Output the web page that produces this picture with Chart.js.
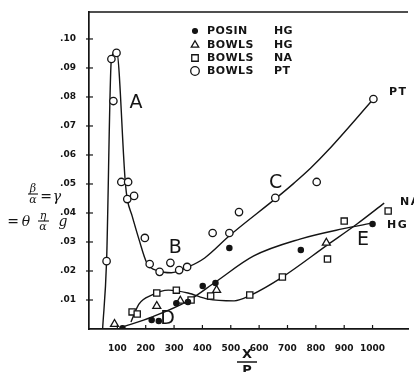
<!DOCTYPE html>
<html><head><meta charset="utf-8">
<script src="https://cdn.jsdelivr.net/npm/chart.js@4.4.1/dist/chart.umd.min.js"></script>
<style>html,body{margin:0;padding:0;background:#fff;overflow:hidden}#wrap{width:414px;height:372px;position:relative;background:#fff}</style>
</head><body><div id="wrap"><canvas id="c" width="414" height="372"></canvas></div>
<script>
// ---- data ----
const seriesNames = [['POSIN', 'HG'], ['BOWLS', 'HG'], ['BOWLS', 'NA'], ['BOWLS', 'PT']];
const posinHgX = [118, 221, 246, 308, 349, 401, 446, 495, 747, 1000];
const posinHgY = [0.0003, 0.0031, 0.0028, 0.0089, 0.0093, 0.0148, 0.0159, 0.0279, 0.0272, 0.0362];
const bowlsHgX = [90, 239, 322, 450, 837];
const bowlsHgY = [0.0017, 0.0079, 0.0097, 0.0134, 0.0297];
const bowlsNaX = [152, 170, 239, 308, 360, 429, 567, 682, 841, 900, 1055];
const bowlsNaY = [0.0059, 0.0052, 0.0124, 0.0134, 0.0100, 0.0114, 0.0117, 0.0179, 0.0241, 0.0372, 0.0407];
const bowlsPtX = [62, 79, 86, 97, 114, 138, 135, 159, 197, 214, 249, 287, 318, 346, 436, 495, 529, 657, 803, 1003];
const bowlsPtY = [0.0234, 0.0931, 0.0786, 0.0952, 0.0507, 0.0507, 0.0448, 0.0459, 0.0314, 0.0224, 0.0197, 0.0228, 0.0203, 0.0214, 0.0331, 0.0331, 0.0403, 0.0452, 0.0507, 0.0793];
// fitted curves drawn on the reference (read point by point)
const curvePtX = [48, 62, 79, 97, 128, 135, 152, 176, 204, 245, 290, 350, 408, 498, 661, 723, 782, 844, 1003];
const curvePtY = [0, 0.0234, 0.0931, 0.0959, 0.0507, 0.0448, 0.039, 0.031, 0.0228, 0.0200, 0.0194, 0.0214, 0.0245, 0.0324, 0.0452, 0.0503, 0.0555, 0.0617, 0.0793];
const curveHgX = [118, 221, 349, 446, 581, 744, 893, 1003];
const curveHgY = [0.0007, 0.0041, 0.0097, 0.0162, 0.0252, 0.0310, 0.0345, 0.0366];
const curveNaX = [148, 176, 221, 280, 349, 419, 512, 571, 682, 841, 945, 1041];
const curveNaY = [0.0024, 0.0086, 0.0117, 0.0134, 0.0124, 0.0103, 0.0097, 0.0117, 0.0179, 0.0290, 0.0362, 0.0434];
const xTickLabels = ['100', '200', '300', '400', '500', '600', '700', '800', '900', '1000'];
const yTickLabels = ['.01', '.02', '.03', '.04', '.05', '.06', '.07', '.08', '.09', '.10'];
const curveLabels = [['A', 166, 0.0779], ['B', 304, 0.0279], ['C', 658, 0.0503], ['D', 277, 0.0034], ['E', 966, 0.0307]];

const INK = '#141414';
const zip = (xs, ys) => xs.map((x, i) => ({x: x, y: ys[i]}));

const markerDs = (label, xs, ys, style, r, fill) => ({
  label, data: zip(xs, ys), showLine: false, order: 0,
  pointStyle: style, pointRadius: r, pointHoverRadius: r,
  pointBackgroundColor: fill, pointBorderColor: INK, pointBorderWidth: 1.3
});
const curveDs = (label, xs, ys) => ({
  label, data: zip(xs, ys), showLine: true, order: 1,
  borderColor: INK, borderWidth: 1.4, pointRadius: 0, fill: false,
  cubicInterpolationMode: 'monotone'
});

function drawMarker(ctx, style, x, y, r, filled) {
  ctx.beginPath();
  if (style === 'circle') {
    ctx.arc(x, y, r, 0, Math.PI * 2);
  } else if (style === 'triangle') {
    const h = r * 1.5, w = r * Math.sqrt(3) / 2;
    ctx.moveTo(x, y - r); ctx.lineTo(x + w, y + r / 2); ctx.lineTo(x - w, y + r / 2); ctx.closePath();
  } else {
    const s = r * Math.SQRT1_2;
    ctx.rect(x - s, y - s, 2 * s, 2 * s);
  }
  ctx.fillStyle = filled ? INK : '#fff';
  ctx.fill();
  ctx.lineWidth = 1.3; ctx.strokeStyle = INK;
  ctx.stroke();
}

const decor = {
  id: 'decor',
  afterDraw(chart) {
    const ctx = chart.ctx, a = chart.chartArea, xs = chart.scales.x, ys = chart.scales.y;
    ctx.save();
    ctx.strokeStyle = INK; ctx.fillStyle = INK;
    // top frame line
    ctx.lineWidth = 1.6;
    ctx.beginPath(); ctx.moveTo(a.left, a.top); ctx.lineTo(a.right, a.top); ctx.stroke();
    // tick marks
    ctx.lineWidth = 1.2;
    xs.ticks.forEach(t => {
      if (t.value > 0 && t.value <= 1100 && t.value % 100 === 0) {
        const p = xs.getPixelForValue(t.value);
        ctx.beginPath(); ctx.moveTo(p, a.bottom); ctx.lineTo(p, a.bottom - 4); ctx.stroke();
      }
    });
    ys.ticks.forEach(t => {
      const n = Math.round(t.value * 100);
      if (n >= 1 && n <= 10 && Math.abs(t.value * 100 - n) < 1e-6) {
        const p = ys.getPixelForValue(t.value);
        ctx.beginPath(); ctx.moveTo(a.left - 3, p); ctx.lineTo(a.left + 4, p); ctx.stroke();
      }
    });
    // legend
    const legY = [31, 45, 58, 71];
    const mk = chart.data.datasets.slice(0, 4);
    legY.forEach((yy, i) => {
      const d = mk[i];
      drawMarker(ctx, d.pointStyle, 195, yy, i === 0 ? 2.4 : (i === 2 ? 4.6 : 4.3), i === 0);
    });
    ctx.fillStyle = INK;
    ctx.font = 'bold 11px "DejaVu Sans"';
    ctx.textBaseline = 'middle'; ctx.textAlign = 'left';
    try { ctx.letterSpacing = '0.4px'; } catch (e) {}
    seriesNames.forEach((s, i) => {
      ctx.fillText(s[0], 207, legY[i] + 0.5);
      ctx.fillText(s[1], 274, legY[i] + 0.5);
    });
    // curve end labels
    try { ctx.letterSpacing = '1.5px'; } catch (e) {}
    ctx.fillText('PT', 389, 92);
    ctx.fillText('NA', 400, 202);
    ctx.fillText('HG', 387, 225);
    try { ctx.letterSpacing = '0px'; } catch (e) {}
    // curve letters
    ctx.font = '19px "DejaVu Sans"';
    ctx.textAlign = 'center';
    curveLabels.forEach(l => {
      ctx.fillText(l[0], xs.getPixelForValue(l[1]), ys.getPixelForValue(l[2]));
    });
    // y axis label
    ctx.lineWidth = 1.1;
    ctx.font = 'italic 11px "DejaVu Serif"';
    ctx.fillText('β', 33, 189);
    ctx.beginPath(); ctx.moveTo(28, 194); ctx.lineTo(38, 194); ctx.stroke();
    ctx.fillText('α', 33, 200);
    ctx.font = '14px "DejaVu Serif"';
    ctx.fillText('=', 46, 197);
    ctx.font = 'italic 14px "DejaVu Serif"';
    ctx.fillText('γ', 57, 197);
    ctx.font = '14px "DejaVu Serif"';
    ctx.fillText('=', 13, 222);
    ctx.font = 'italic 14px "DejaVu Serif"';
    ctx.fillText('θ', 26, 222);
    ctx.font = 'italic 11px "DejaVu Serif"';
    ctx.fillText('η', 43, 216);
    ctx.beginPath(); ctx.moveTo(38, 221); ctx.lineTo(49, 221); ctx.stroke();
    ctx.fillText('α', 43, 227);
    ctx.font = 'italic 14px "DejaVu Serif"';
    ctx.fillText('g', 63, 222);
    // x axis label
    ctx.font = 'bold 13px "DejaVu Sans"';
    ctx.fillText('X', 247, 355);
    ctx.lineWidth = 1.5;
    ctx.beginPath(); ctx.moveTo(237, 362); ctx.lineTo(257, 362); ctx.stroke();
    ctx.textBaseline = 'top';
    ctx.fillText('P', 247, 364);
    ctx.restore();
  }
};

new Chart(document.getElementById('c'), {
  type: 'scatter',
  data: {
    datasets: [
      markerDs('POSIN HG', posinHgX, posinHgY, 'circle', 2.6, INK),
      markerDs('BOWLS HG', bowlsHgX, bowlsHgY, 'triangle', 4.6, '#fff'),
      markerDs('BOWLS NA', bowlsNaX, bowlsNaY, 'rect', 4.4, '#fff'),
      markerDs('BOWLS PT', bowlsPtX, bowlsPtY, 'circle', 3.7, '#fff'),
      curveDs('PT curve', curvePtX, curvePtY),
      curveDs('HG curve', curveHgX, curveHgY),
      curveDs('NA curve', curveNaX, curveNaY)
    ]
  },
  options: {
    responsive: false, animation: false, devicePixelRatio: 1,
    layout: {padding: {top: 12, left: 0, right: 0, bottom: 0}},
    plugins: {legend: {display: false}, tooltip: {enabled: false}},
    scales: {
      x: {
        type: 'linear', min: 0, max: 1125, position: 'bottom',
        grid: {display: false},
        border: {display: true, color: INK, width: 1.7},
        ticks: {
          stepSize: 100, autoSkip: false, maxRotation: 0, padding: 6, color: INK,
          font: {family: 'DejaVu Sans', size: 9, weight: 'bold'},
          callback: v => { const i = Math.round(v / 100) - 1; return (Math.abs(v / 100 - (i + 1)) < 1e-6 && i >= 0 && i < xTickLabels.length) ? xTickLabels[i] : ''; }
        },
        afterFit: s => { s.height = 43; }
      },
      y: {
        type: 'linear', min: 0, max: 0.1093,
        grid: {display: false},
        border: {display: true, color: INK, width: 1.7},
        ticks: {
          stepSize: 0.01, autoSkip: false, padding: 5, color: INK,
          font: {family: 'DejaVu Sans', size: 9, weight: 'bold'},
          callback: v => { const n = Math.round(v * 100); return (Math.abs(v * 100 - n) < 1e-6 && n >= 1 && n <= 10) ? yTickLabels[n - 1] : ''; }
        },
        afterFit: s => { s.width = 89; }
      }
    }
  },
  plugins: [decor]
});
</script>
</body></html>
